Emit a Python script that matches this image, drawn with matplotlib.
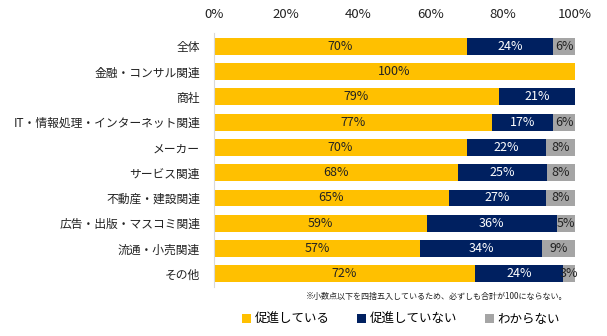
import matplotlib.pyplot as plt
from matplotlib.patches import Patch

plt.rcParams['font.family'] = ['Noto Sans CJK JP', 'DejaVu Sans']

# data
categories = ['全体', '金融・コンサル関連', '商社', 'IT・情報処理・インターネット関連', 'メーカー',
              'サービス関連', '不動産・建設関連', '広告・出版・マスコミ関連', '流通・小売関連', 'その他']
promoting = [70, 100, 79, 77, 70, 67.6, 65, 59, 57, 72.3]
not_promoting = [24, 0, 21, 17, 22, 24.8, 27, 36, 34, 24.4]
unknown = [6, 0, 0, 6, 8, 7.6, 8, 5, 9, 3.3]
series_names = ['促進している', '促進していない', 'わからない']
colors = ['#FFC000', '#002060', '#A5A5A5']
text_colors = ['#222222', 'white', '#222222']
xticks = [0, 20, 40, 60, 80, 100]

fig = plt.figure(figsize=(6.07, 3.36), dpi=100)
ax = fig.add_axes([0.3526, 0.147, 0.5944, 0.7536])

y = list(range(len(categories)))
left = [0] * len(categories)
for vals, col, tcol in zip([promoting, not_promoting, unknown], colors, text_colors):
    ax.barh(y, vals, left=left, color=col, height=0.67)
    for i, v in enumerate(vals):
        if v > 0:
            ax.text(left[i] + v / 2, i, '{}%'.format(int(round(v))), ha='center', va='center',
                    fontsize=9, color=tcol)
    left = [l + v for l, v in zip(left, vals)]

ax.set_xlim(0, 100)
ax.set_ylim(len(categories) - 0.5, -0.5)
ax.set_yticks(y)
ax.set_yticklabels(categories, fontsize=8.5, color='#222222')
ax.set_xticks(xticks)
ax.set_xticklabels(['{}%'.format(t) for t in xticks], fontsize=9.5, color='#222222')
ax.xaxis.tick_top()
ax.tick_params(axis='both', length=0)
ax.tick_params(axis='x', pad=9)
ax.tick_params(axis='y', pad=10)
for s in ['top', 'right', 'bottom']:
    ax.spines[s].set_visible(False)
ax.spines['left'].set_color('#D9D9D9')

fig.text(0.934, 0.118, '※小数点以下を四捨五入しているため、必ずしも合計が100にならない。',
         ha='right', va='center', fontsize=5.8, color='#222222')

handles = [Patch(facecolor=c, edgecolor='none') for c in colors]
fig.legend(handles, series_names, loc='center', bbox_to_anchor=(0.661, 0.05), ncol=3,
           frameon=False, fontsize=9, handlelength=0.7, handleheight=0.7,
           handletextpad=0.3, columnspacing=2.2)

fig.savefig('out.png', dpi=100)
